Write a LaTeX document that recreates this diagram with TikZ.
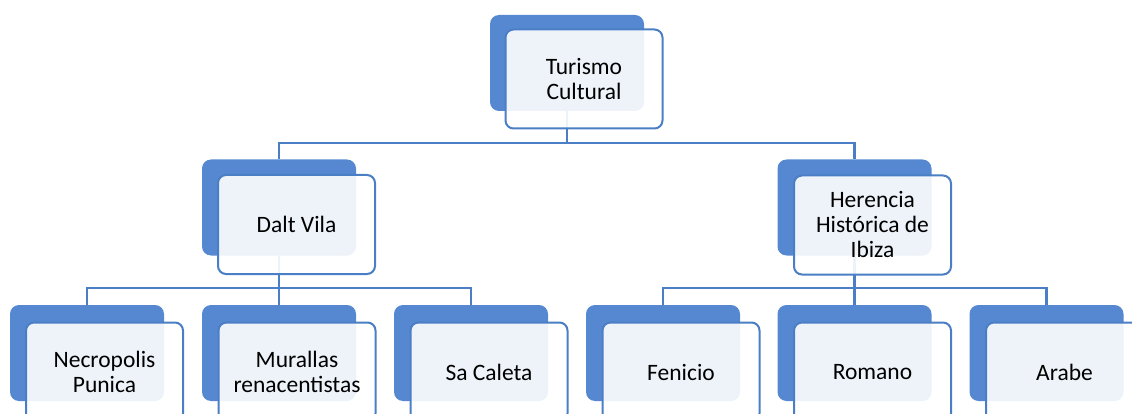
\documentclass[tikz,border=0pt]{standalone}
\usepackage{fontspec}
\setmainfont{Carlito}
\usepackage{tikz}

\definecolor{boxblue}{RGB}{85,136,208}
\definecolor{lineblue}{RGB}{74,126,197}

\tikzset{
  backbox/.style={fill=boxblue, rounded corners=9pt, minimum width=154pt, minimum height=96pt, inner sep=0pt},
  frontbox/.style={draw=lineblue, line width=2pt, fill=white, fill opacity=0.9, text opacity=1,
    rounded corners=8pt, minimum width=157pt, minimum height=99pt, inner sep=0pt, align=center,
    font=\fontsize{23.5}{25}\selectfont},
  link/.style={draw=lineblue, line width=2.2pt}
}

\begin{document}
\begin{tikzpicture}[x=1pt,y=-1pt]
		\useasboundingbox (0,0) rectangle (1132,414);
		% back boxes
		\node[backbox] (tc-b) at (567,63) {};
		\node[backbox] (dv-b) at (279,207.5) {};
		\node[backbox] (hh-b) at (854.5,207.5) {};
		\node[backbox] (np-b) at (87,353) {};
		\node[backbox] (mu-b) at (279,353) {};
		\node[backbox] (sc-b) at (471,353) {};
		\node[backbox] (fe-b) at (663,353) {};
		\node[backbox] (ro-b) at (854.5,353) {};
		\node[backbox] (ar-b) at (1046.5,353) {};
		% connectors
		\coordinate (j1) at (567,143);
		\coordinate (j2) at (279,288);
		\coordinate (j3) at (854.5,288);
		\draw[link] (tc-b.south) -- (j1);
		\draw[link] (dv-b.north) |- (j1) -| (hh-b.north);
		\draw[link] (dv-b.south) -- (mu-b.north);
		\draw[link] (np-b.north) |- (j2) -| (sc-b.north);
		\draw[link] (hh-b.south) -- (ro-b.north);
		\draw[link] (fe-b.north) |- (j3) -| (ar-b.north);
		% front boxes
		\node[frontbox] (tc) at (584,79) {Turismo\\Cultural};
		\node[frontbox] (dv) at (296.5,224.5) {Dalt Vila};
		\node[frontbox] (hh) at (872.5,225) {Herencia\\Histórica de\\Ibiza};
		\node[frontbox] (np) at (104.5,372) {Necropolis\\Punica};
		\node[frontbox] (mu) at (297,372) {Murallas\\renacentistas};
		\node[frontbox] (sc) at (489,372) {Sa Caleta};
		\node[frontbox] (fe) at (681,372) {Fenicio};
		\node[frontbox] (ro) at (872.5,372) {Romano};
		\node[frontbox] (ar) at (1064.5,372) {Arabe};
	\end{tikzpicture}
\end{document}
